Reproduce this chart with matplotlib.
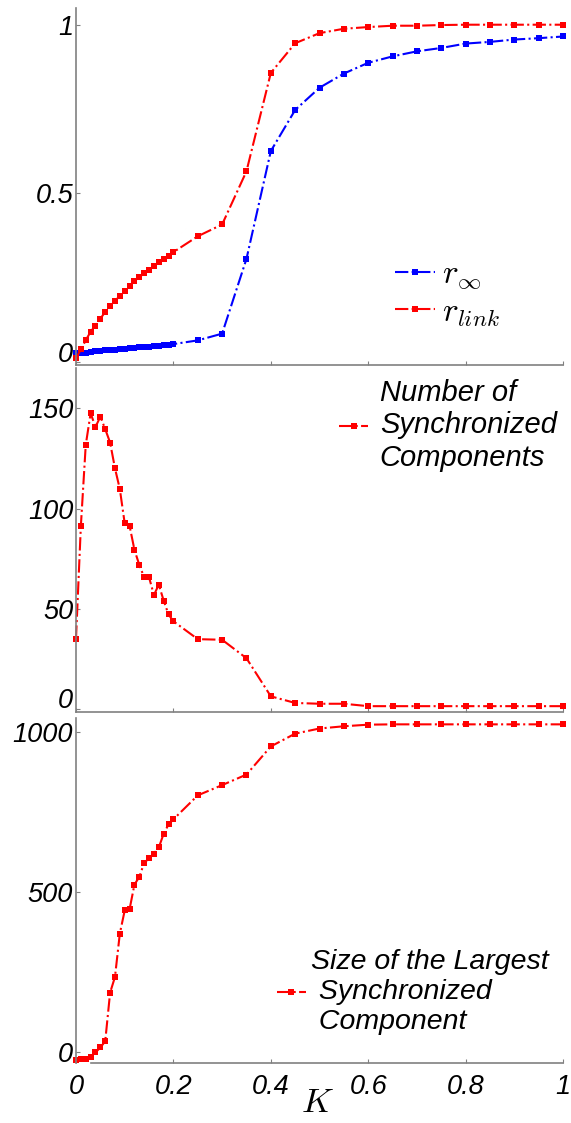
import matplotlib
matplotlib.use("Agg")
import matplotlib.pyplot as plt
from matplotlib.transforms import ScaledTranslation

plt.rcParams["font.family"] = ["Liberation Sans", "DejaVu Sans"]
plt.rcParams["font.style"] = "italic"
plt.rcParams["mathtext.fontset"] = "cm"

# coupling strength K (fine steps up to 0.2, then steps of 0.05)
K = [0.00, 0.01, 0.02, 0.03, 0.04, 0.05, 0.06, 0.07, 0.08, 0.09, 0.10,
     0.11, 0.12, 0.13, 0.14, 0.15, 0.16, 0.17, 0.18, 0.19, 0.20,
     0.25, 0.30, 0.35, 0.40, 0.45, 0.50, 0.55, 0.60, 0.65, 0.70,
     0.75, 0.80, 0.85, 0.90, 0.95, 1.00]

r_inf = [0.027, 0.026, 0.027, 0.029, 0.031, 0.032, 0.033, 0.034, 0.035, 0.036, 0.037,
         0.039, 0.041, 0.042, 0.043, 0.044, 0.046, 0.047, 0.049, 0.050, 0.052,
         0.063, 0.083, 0.305, 0.625, 0.747, 0.813, 0.855, 0.887, 0.906, 0.921,
         0.931, 0.944, 0.949, 0.956, 0.960, 0.965]

r_link = [0.010, 0.036, 0.063, 0.089, 0.107, 0.127, 0.148, 0.166, 0.180, 0.195, 0.210,
          0.225, 0.240, 0.250, 0.263, 0.273, 0.284, 0.296, 0.305, 0.314, 0.325,
          0.372, 0.407, 0.565, 0.857, 0.945, 0.975, 0.988, 0.993, 0.997, 0.997,
          0.999, 1.000, 1.000, 1.000, 1.000, 1.000]

n_sync = [35.2, 91.5, 131.8, 147.6, 140.8, 145.9, 139.7, 133.0, 120.2, 109.8, 92.7,
          91.5, 79.5, 72.0, 65.8, 65.8, 57.0, 62.2, 54.2, 47.3, 43.9,
          35.0, 34.7, 25.5, 6.5, 3.2, 2.8, 2.8, 1.6, 1.6, 1.6,
          1.6, 1.6, 1.6, 1.6, 1.6, 1.6]

largest = [-24, -23.5, -22, -16, -2, 13.6, 33, 185, 234, 370, 442,
           446, 523, 547, 591, 605, 620, 639, 682, 711, 727,
           802, 834, 867, 955, 995, 1011, 1018, 1023, 1024, 1024,
           1024, 1024, 1024, 1024, 1024, 1024]

xticks = [0, 0.2, 0.4, 0.6, 0.8, 1]
xticklabels = ["0", "0.2", "0.4", "0.6", "0.8", "1"]

GRAY = "#808080"
style = dict(linestyle="-.", marker="s", markersize=4.2, linewidth=1.5,
             markeredgewidth=0, clip_on=False)

fig = plt.figure(figsize=(5.71, 11.23), dpi=100)
ax1 = fig.add_axes([0.1331, 0.675, 0.853, 0.318])
ax2 = fig.add_axes([0.1331, 0.366, 0.853, 0.306])
ax3 = fig.add_axes([0.1331, 0.0534, 0.853, 0.307])


def setup(ax, ylim, yticks, show_x):
    ax.set_xlim(0, 1)
    ax.set_ylim(*ylim)
    ax.set_yticks(yticks)
    ax.set_yticklabels([f"{t:g}" for t in yticks])
    ax.set_xticks(xticks)
    if show_x:
        ax.set_xticklabels(xticklabels)
    else:
        ax.set_xticklabels([])
    for s in ["top", "right"]:
        ax.spines[s].set_visible(False)
    for s in ["left", "bottom"]:
        ax.spines[s].set_color(GRAY)
        ax.spines[s].set_linewidth(1.2)
    ax.tick_params(direction="in", length=3, color=GRAY, labelsize=19.5, pad=2)
    ax.tick_params(axis="x", pad=8)


def lift_zero_label(ax, px):
    # the "0" label sits a little above its tick in the original
    lab = ax.get_yticklabels()[0]
    lab.set_transform(lab.get_transform() + ScaledTranslation(0, px / 100, fig.dpi_scale_trans))


# top: order parameters
ax1.plot(K, r_inf, color="blue", label=r"$r_\infty$", **style)
ax1.plot(K, r_link, color="red", label=r"$r_{link}$", **style)
setup(ax1, (-0.01, 1.05), [0, 0.5, 1], False)
ax1.legend(loc="center left", bbox_to_anchor=(0.655, 0.199), frameon=False,
           fontsize=24, handlelength=1.2, handletextpad=0.2, labelspacing=0.15,
           borderpad=0, borderaxespad=0)

# middle: number of synchronized components
ax2.plot(K, n_sync, color="red", label="Number of\nSynchronized\nComponents", **style)
setup(ax2, (-1.3, 170), [0, 50, 100, 150], False)
ax2.legend(loc="center left", bbox_to_anchor=(0.54, 0.834), frameon=False,
           fontsize=21, handlelength=1.0, handletextpad=0.4,
           borderpad=0, borderaxespad=0)

# bottom: size of the largest synchronized component
ax3.plot(K, largest, color="red",
         label="Size of the Largest\n Synchronized\n Component", **style)
setup(ax3, (-35, 1043), [0, 500, 1000], True)
ax3.spines["bottom"].set_bounds(0.03, 1)
ax3.legend(loc="center left", bbox_to_anchor=(0.413, 0.206), frameon=False,
           fontsize=20.5, handlelength=1.0, handletextpad=0.2,
           borderpad=0, borderaxespad=0)
ax3.set_xlabel("$K$", fontsize=25)
ax3.xaxis.set_label_coords(0.495, -0.068)

lift_zero_label(ax1, 10)
lift_zero_label(ax2, 11)

fig.savefig("out.png", dpi=100)
